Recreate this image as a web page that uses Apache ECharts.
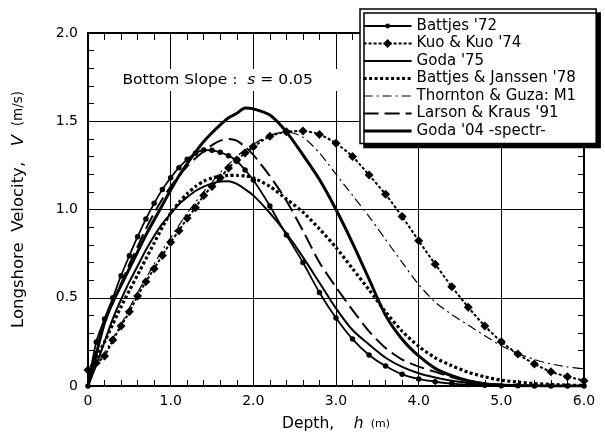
<!DOCTYPE html>
<html>
<head>
<meta charset="utf-8">
<script src="https://cdn.jsdelivr.net/npm/echarts@6/dist/echarts.min.js"></script>
<style>html,body{margin:0;padding:0;background:#fff}#c{width:605px;height:445px}</style>
</head>
<body>
<div id="c"></div>
<script>
// Depth h (m)
var depth = [0,0.1,0.2,0.3,0.4,0.5,0.6,0.7,0.8,0.9,1.0,1.1,1.2,1.3,1.4,1.5,1.6,1.7,1.8,1.9,2.0,
  2.2,2.4,2.6,2.8,3.0,3.2,3.4,3.6,3.8,4.0,4.2,4.4,4.6,4.8,5.0,5.2,5.4,5.6,5.8,6.0];

var battjes72 = [0,0.25,0.38,0.50,0.625,0.738,0.846,0.946,1.035,1.114,1.18,1.237,1.284,1.318,1.337,1.335,1.324,1.305,1.275,1.224,1.167,
  1.02,0.855,0.70,0.53,0.385,0.266,0.176,0.113,0.066,0.04,0.024,0.014,0.008,0.004,0.002,0.001,0,0,0,0];
var kuo74 = [0.09,0.13,0.17,0.26,0.34,0.42,0.51,0.59,0.665,0.74,0.815,0.88,0.95,1.01,1.08,1.13,1.18,1.235,1.28,1.32,1.355,
  1.415,1.44,1.445,1.425,1.375,1.30,1.195,1.086,0.96,0.823,0.69,0.563,0.446,0.34,0.251,0.181,0.125,0.081,0.053,0.03];
var goda75 = [0,0.12,0.25,0.38,0.49,0.59,0.68,0.77,0.85,0.92,0.975,1.03,1.07,1.105,1.13,1.148,1.158,1.16,1.145,1.115,1.08,
  0.98,0.865,0.73,0.585,0.44,0.317,0.235,0.16,0.108,0.072,0.048,0.03,0.018,0.01,0.005,0.003,0.001,0,0,0];
var battjesJanssen78 = [0.08,0.16,0.25,0.35,0.45,0.54,0.63,0.72,0.81,0.90,0.98,1.04,1.09,1.13,1.16,1.178,1.188,1.193,1.193,1.19,1.18,
  1.13,1.06,0.985,0.89,0.785,0.665,0.545,0.42,0.31,0.225,0.16,0.115,0.078,0.052,0.033,0.022,0.014,0.009,0.005,0.003];
var thorntonGuza = [0.08,0.13,0.19,0.27,0.35,0.44,0.53,0.61,0.69,0.77,0.84,0.91,0.98,1.04,1.10,1.155,1.21,1.255,1.30,1.34,1.37,
  1.42,1.44,1.41,1.32,1.20,1.08,0.96,0.83,0.70,0.575,0.475,0.405,0.345,0.285,0.228,0.185,0.15,0.125,0.108,0.097];
var larsonKraus91 = [0,0.2,0.36,0.47,0.58,0.69,0.79,0.89,0.98,1.06,1.13,1.19,1.245,1.29,1.33,1.365,1.39,1.40,1.39,1.355,1.31,
  1.19,1.05,0.88,0.70,0.56,0.43,0.31,0.215,0.15,0.11,0.08,0.05,0.03,0.015,0.007,0.003,0.001,0,0,0];
var goda04 = [0,0.18,0.36,0.475,0.57,0.665,0.76,0.855,0.94,1.025,1.11,1.19,1.26,1.325,1.385,1.435,1.48,1.52,1.545,1.575,1.57,
  1.535,1.44,1.31,1.17,1.0,0.81,0.605,0.40,0.265,0.17,0.10,0.058,0.03,0.013,0.005,0.002,0.001,0,0,0];

var seriesNames = ["Battjes '72","Kuo & Kuo '74","Goda '75","Battjes & Janssen '78","Thornton & Guza: M1","Larson & Kraus '91","Goda '04 -spectr-"];
var xTickLabels = ["0","1.0","2.0","3.0","4.0","5.0","6.0"];
var yTickLabels = ["0","0.5","1.0","1.5","2.0"];

function pairs(v){ return depth.map(function(h,i){ return [h, v[i]]; }); }

var FONT = "DejaVu Sans, Verdana, sans-serif";
var chart = echarts.init(document.getElementById('c'), null, {renderer:'canvas'});

// small filled dot inside a padded box (so legend icon stays small)
var DOT = 'path://M0,0M10,10M2.25,5A2.75,2.75 0 1,0 7.75,5A2.75,2.75 0 1,0 2.25,5Z';

var styles = [
  {width:1.8, type:'solid', symbol:DOT, symbolSize:10},
  {width:2, type:[3,2], symbol:'diamond', symbolSize:9},
  {width:2, type:'solid'},
  {width:3.2, type:[3,2.5]},
  {width:1.2, type:[9,4,2,4]},
  {width:2, type:[15,6]},
  {width:3, type:'solid'}
];
var values = [battjes72, kuo74, goda75, battjesJanssen78, thorntonGuza, larsonKraus91, goda04];

var series = values.map(function(vals, i){
  var st = styles[i];
  var s = {
    name: seriesNames[i], type: 'line', data: pairs(vals), smooth: 0.25,
    symbol: 'none', showSymbol: false,
    lineStyle: {color:'#000', width: st.width, type: st.type},
    itemStyle: {color:'#000'},
    emphasis: {disabled:true}, animation:false, z: 2
  };
  if (st.symbol){ s.symbol = st.symbol; s.showSymbol = true; s.symbolSize = st.symbolSize; }
  return s;
});

var legendData = seriesNames.map(function(n, i){
  var st = styles[i];
  var d = {name:n, lineStyle:{color:'#000', width: st.width, type: st.type}};
  if (!st.symbol) d.itemStyle = {opacity:0};
  return d;
});

var axisCommon = {
  axisLine: {show:true, onZero:false, lineStyle:{color:'#000', width:2}},
  axisTick: {show:true, inside:true, length:6, lineStyle:{color:'#000', width:1}},
  minorTick: {show:true, splitNumber:5, length:6, lineStyle:{color:'#000', width:1}},
  splitLine: {show:false}
};

chart.setOption({
  animation: false,
  backgroundColor: '#fff',
  textStyle: {fontFamily: FONT, color:'#000'},
  grid: {left: 88, right: 21, top: 33, bottom: 59, containLabel:false},
  graphic: [{
    type:'text', left: 116, top: 69, scaleX: 1.07, z: 10,
    style: {
      text: 'Bottom Slope :  {i|s} = 0.05',
      font: '14.5px ' + FONT, fill:'#000',
      backgroundColor:'#fff', padding:[4, 30, 3, 6],
      rich: {i:{fontFamily: FONT, fontSize:14.5, fontStyle:'italic', fill:'#000'}}
    }
  }],
  legend: {
    orient: 'vertical', left: 360, top: 9,
    itemWidth: 48, itemHeight: 11, itemGap: 2.5,
    padding: [9.5, 20, 5, 2],
    backgroundColor: '#fff', borderColor:'#000', borderWidth: 1.5, borderRadius:0,
    shadowColor: '#000', shadowBlur: 0, shadowOffsetX: 4, shadowOffsetY: 4,
    textStyle: {fontFamily: FONT, fontSize: 15, color:'#000', padding:[0,0,0,0]},
    data: legendData,
    selectedMode: false
  },
  xAxis: [
    Object.assign({}, axisCommon, {
      type:'value', min:0, max:6, interval:1, position:'bottom',
      name: '{a|Depth,}{a|    }{i|h}{s|  (m)}', nameLocation:'middle', nameGap: 30,
      nameTextStyle: {fontFamily: FONT, fontSize:15.5, color:'#000',
        rich:{a:{fontFamily:FONT,fontSize:15.5,color:'#000'}, i:{fontFamily:FONT,fontSize:15.5,fontStyle:'italic',color:'#000'}, s:{fontFamily:FONT,fontSize:11,color:'#000'}}},
      axisLabel: {show:true, margin:8, fontFamily: FONT, fontSize:14, color:'#000',
        formatter: function(v){ return xTickLabels[Math.round(v)]; }},
      splitLine: {show:true, lineStyle:{color:'#000', width:1}}
    }),
    Object.assign({}, axisCommon, {
      type:'value', min:0, max:6, interval:1, position:'top',
      axisLabel: {show:false}, axisTick:{show:true, inside:true, length:7, lineStyle:{color:'#000'}},
      minorTick:{show:true, splitNumber:5, length:7, lineStyle:{color:'#000'}}
    })
  ],
  yAxis: [
    Object.assign({}, axisCommon, {
      type:'value', min:0, max:2, interval:0.5, position:'left',
      name: '{a|Longshore  Velocity,}{a|   }{i|V}{s|  (m/s)}', nameLocation:'middle', nameGap: 61,
      nameTextStyle: {fontFamily: FONT, fontSize:16.5, color:'#000',
        rich:{a:{fontFamily:FONT,fontSize:16.5,color:'#000'}, i:{fontFamily:FONT,fontSize:16.5,fontStyle:'italic',color:'#000'}, s:{fontFamily:FONT,fontSize:13.5,color:'#000'}}},
      axisLabel: {show:true, margin:10, fontFamily: FONT, fontSize:14, color:'#000',
        formatter: function(v){ return yTickLabels[Math.round(v*2)]; }},
      splitLine: {show:true, lineStyle:{color:'#000', width:1}}
    }),
    Object.assign({}, axisCommon, {
      type:'value', min:0, max:2, interval:0.5, position:'right',
      axisLabel:{show:false}
    })
  ],
  series: series
});
</script>
</body>
</html>
